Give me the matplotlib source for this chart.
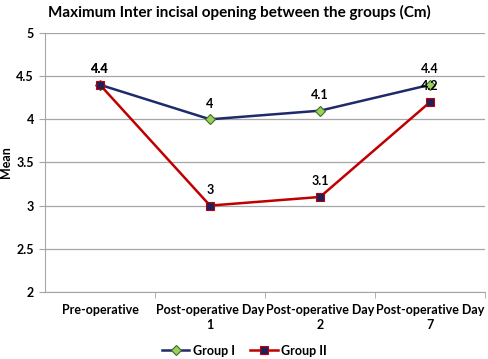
import matplotlib
matplotlib.use("Agg")
import matplotlib.pyplot as plt

categories = ["Pre-operative", "Post-operative Day\n1", "Post-operative Day\n2", "Post-operative Day\n7"]
group1 = [4.4, 4.0, 4.1, 4.4]
group2 = [4.4, 3.0, 3.1, 4.2]
yticks = [2, 2.5, 3, 3.5, 4, 4.5, 5]

plt.rcParams['font.family'] = ['Lato', 'DejaVu Sans']
plt.rcParams['font.weight'] = 'bold'

fig = plt.figure(figsize=(4.89, 3.59), dpi=100)
ax = fig.add_axes([0.092, 0.187, 0.900, 0.721])

x = list(range(len(categories)))
ax.plot(x, group1, color='#1F2A6B', lw=1.8, marker='D', ms=5, mfc='#9BD15A', mec='#3E6B2A', mew=0.8, label='Group I', zorder=3)
ax.plot(x, group2, color='#C00000', lw=1.8, marker='s', ms=6, mfc='#1F1F5E', mec='#C00000', mew=0.8, label='Group II', zorder=3)

for xi, v in zip(x, group1):
    ax.annotate(f"{v:g}", (xi, v), xytext=(0, 7), textcoords='offset points', ha='center', va='bottom', fontsize=9, fontweight='bold')
for xi, v in zip(x, group2):
    ax.annotate(f"{v:g}", (xi, v), xytext=(0, 7), textcoords='offset points', ha='center', va='bottom', fontsize=9, fontweight='bold')

ax.set_xlim(-0.5, len(categories) - 0.5)
ax.set_ylim(2, 5)
ax.set_yticks(yticks)
ax.set_yticklabels([f"{t:g}" for t in yticks], fontsize=9, fontweight='bold')
ax.yaxis.grid(True, color='#A6A6A6', lw=0.9)
ax.set_axisbelow(True)

ax.set_xticks(x)
ax.set_xticklabels(categories, fontsize=9, fontweight='bold', linespacing=1.3)
ax.tick_params(axis='x', which='major', length=0, pad=9)
ax.set_xticks([0.5, 1.5, 2.5, 3.5], minor=True)
ax.tick_params(axis='x', which='minor', length=4, color='#A6A6A6')
ax.tick_params(axis='y', length=4, color='#A6A6A6', pad=4)

for s in ['top', 'right']:
    ax.spines[s].set_visible(False)
for s in ['left', 'bottom']:
    ax.spines[s].set_color('#A6A6A6')

ax.set_ylabel('Mean', fontsize=9, fontweight='bold')
ax.yaxis.set_label_coords(-0.075, 0.5)
fig.suptitle('Maximum Inter incisal opening between the groups (Cm)', x=0.49, y=0.985, fontsize=11, fontweight='bold')

fig.legend(loc='lower center', bbox_to_anchor=(0.5, -0.025), ncol=2, frameon=False, fontsize=9,
           handlelength=2.2, columnspacing=1.2, handletextpad=0.3)

fig.savefig('out.png', dpi=100)
